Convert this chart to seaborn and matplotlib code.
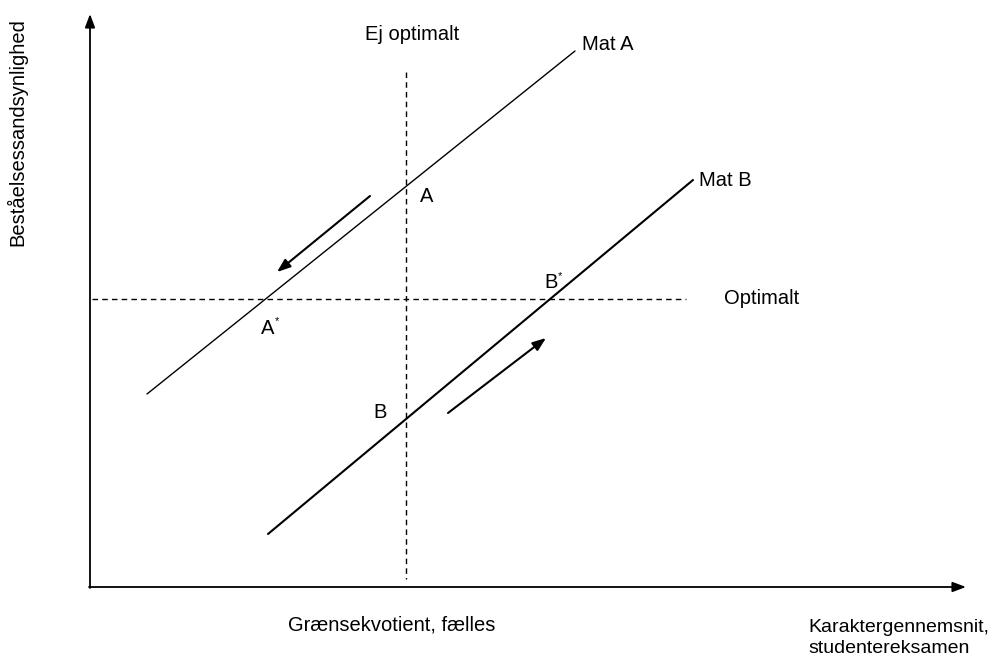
import numpy as np
import pandas as pd
import matplotlib
matplotlib.use("Agg")
import matplotlib.pyplot as plt
import seaborn as sns

# diagram coordinates (pixel-like space, y grows downward)
mat_a_x = [147, 575]
mat_a_y = [394, 51]
mat_b_x = [268, 693]
mat_b_y = [534, 180]
vline_x = [406, 406]
vline_y = [72, 579]
hline_x = [92, 686]
hline_y = [299, 299]
arrow_a = [(370, 196), (277, 272)]
arrow_b = [(448, 413), (546, 338)]

labels = ["Ej optimalt", "Mat A", "A", "Mat B", "B", "Optimalt", "A", "B"]
label_x = [365, 582, 420, 699, 544, 724, 261, 373]
label_y = [34, 45, 196, 181, 283, 299, 328, 413]
star_x = [558, 275]
star_y = [276, 321]

sns.set_style("white")
plt.rcParams["font.family"] = ["Liberation Sans", "DejaVu Sans"]
plt.rcParams["text.color"] = "black"

fig = plt.figure(figsize=(9.94, 6.57), dpi=100)
ax = fig.add_axes([0, 0, 1, 1])

sns.lineplot(x=mat_a_x, y=mat_a_y, sort=False, estimator=None, color="black", lw=1.0, ax=ax)
sns.lineplot(x=mat_b_x, y=mat_b_y, sort=False, estimator=None, color="black", lw=1.5, ax=ax)
sns.lineplot(x=vline_x, y=vline_y, sort=False, estimator=None, color="black", lw=1.0,
             linestyle=(0, (4, 3)), ax=ax)
sns.lineplot(x=hline_x, y=hline_y, sort=False, estimator=None, color="black", lw=1.0,
             linestyle=(0, (4, 3)), ax=ax)

# axes of the diagram
ax.annotate("", xy=(90, 14), xytext=(90, 588),
            arrowprops=dict(arrowstyle="-|>,head_length=0.8,head_width=0.3",
                            color="black", lw=1.3, shrinkA=0, shrinkB=0))
ax.annotate("", xy=(966, 587), xytext=(89, 587),
            arrowprops=dict(arrowstyle="-|>,head_length=0.8,head_width=0.3",
                            color="black", lw=1.3, shrinkA=0, shrinkB=0))

for (x0, y0), (x1, y1) in [arrow_a, arrow_b]:
    ax.annotate("", xy=(x1, y1), xytext=(x0, y0),
                arrowprops=dict(arrowstyle="-|>,head_length=0.8,head_width=0.3",
                                color="black", lw=1.5, shrinkA=0, shrinkB=0))

for t, x, y in zip(labels, label_x, label_y):
    ax.text(x, y, t, fontsize=14.5, ha="left", va="center", color="black")
for x, y in zip(star_x, star_y):
    ax.text(x, y, "*", fontsize=8, ha="left", va="center")

ax.text(392, 625, "Grænsekvotient, fælles", fontsize=14.5, ha="center", va="center")
ax.text(808, 638, "Karaktergennemsnit,\nstudentereksamen", fontsize=14,
        ha="left", va="center", linespacing=1.35)
ax.text(17, 132, "Beståelsessandsynlighed", fontsize=14.5, rotation=90,
        ha="center", va="center")

ax.set_xlim(0, 994)
ax.set_ylim(657, 0)
ax.axis("off")

fig.savefig("out.png", dpi=100)
